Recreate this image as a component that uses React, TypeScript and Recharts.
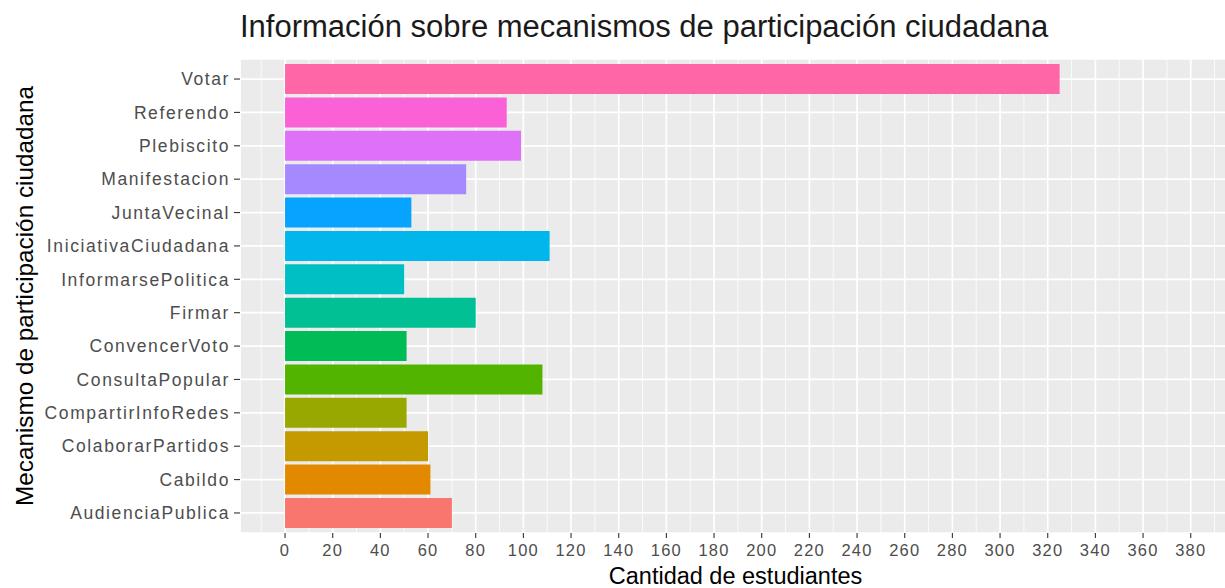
import React from 'react';
import { BarChart, Bar, XAxis, YAxis, CartesianGrid, Cell, Label } from 'recharts';

const categories = [
  'Votar', 'Referendo', 'Plebiscito', 'Manifestacion', 'JuntaVecinal',
  'IniciativaCiudadana', 'InformarsePolitica', 'Firmar', 'ConvencerVoto',
  'ConsultaPopular', 'CompartirInfoRedes', 'ColaborarPartidos', 'Cabildo', 'AudienciaPublica',
];
const counts = [325, 93, 99, 76, 53, 111, 50, 80, 51, 108, 51, 60, 61, 70];
const colors = [
  '#FF66A8', '#FB61D7', '#DF70F8', '#A58AFF', '#06A4FF', '#00B6EB', '#00BFC4',
  '#00C094', '#00BC56', '#53B400', '#99A800', '#C49A00', '#E38900', '#F8766D',
];
const majorTicks = [0, 20, 40, 60, 80, 100, 120, 140, 160, 180, 200, 220, 240, 260, 280, 300, 320, 340, 360, 380];
const minorTicks = [-10, 10, 30, 50, 70, 90, 110, 130, 150, 170, 190, 210, 230, 250, 270, 290, 310, 330, 350, 370, 390];
const xDomain: [number, number] = [-18.9, 396.9];

const title = 'Información sobre mecanismos de participación ciudadana';
const xTitle = 'Cantidad de estudiantes';
const yTitle = 'Mecanismo de participación ciudadana';

const data = categories.map((c, i) => ({ name: c, value: counts[i] }));

const FONT = '"Liberation Sans", Arial, sans-serif';

export default function App() {
  return (
    <div style={{ position: 'absolute', left: 0, top: 0, width: 1225, height: 588, overflow: 'hidden', background: '#fff', fontFamily: FONT }}>
      <div style={{ position: 'absolute', left: 240, top: 11, fontSize: 31, lineHeight: '31px', color: '#1a1a1a', whiteSpace: 'nowrap', fontFamily: FONT }}>
        {title}
      </div>
      <BarChart
        width={1240}
        height={588}
        data={data}
        layout="vertical"
        margin={{ top: 59, right: 9, bottom: 0, left: 0 }}
        barCategoryGap="5%"
        style={{ position: 'absolute', left: 0, top: 0 }}
      >
        <CartesianGrid
          xAxisId="minor"
          horizontal={false}
          vertical={true}
          fill="#EBEBEB"
          stroke="#FFFFFF"
          strokeWidth={0.8}
        />
        <CartesianGrid
          stroke="#FFFFFF"
          strokeWidth={1.7}
        />
        <XAxis
          xAxisId="minor"
          type="number"
          domain={xDomain}
          ticks={minorTicks}
          allowDataOverflow
          hide
        />
        <XAxis
          type="number"
          domain={xDomain}
          ticks={majorTicks}
          allowDataOverflow
          interval={0}
          axisLine={false}
          tickSize={5}
          tickMargin={6}
          height={55}
          tickLine={{ stroke: '#333333', strokeWidth: 1.1 }}
          tick={{ fill: '#4D4D4D', fontSize: 16.5, fontFamily: FONT, letterSpacing: 1.2 }}
        >
          <Label
            content={(props: any) => {
              const vb = props.viewBox || {};
              const cx = vb.x + vb.width / 2;
              const by = vb.y + vb.height - 4;
              return (
                <text x={cx} y={by} textAnchor="middle" fontSize={23.5} fontFamily={FONT} fill="#000">
                  {xTitle}
                </text>
              );
            }}
          />
        </XAxis>
        <YAxis
          type="category"
          dataKey="name"
          width={240}
          interval={0}
          axisLine={false}
          tickSize={6}
          tickMargin={4}
          padding={{ top: 3.34, bottom: 3.34 }}
          tickLine={{ stroke: '#333333', strokeWidth: 1.1 }}
          tick={{ fill: '#4D4D4D', fontSize: 17.5, fontFamily: FONT, letterSpacing: 1.6 }}
        >
          <Label
            content={(props: any) => {
              const vb = props.viewBox || {};
              const cx = vb.x + 33;
              const cy = vb.y + vb.height / 2;
              return (
                <text x={cx} y={cy} transform={`rotate(-90 ${cx} ${cy})`} textAnchor="middle" fontSize={24.3} fontFamily={FONT} fill="#000">
                  {yTitle}
                </text>
              );
            }}
          />
        </YAxis>
        <Bar dataKey="value" isAnimationActive={false}>
          {data.map((d, i) => (
            <Cell key={d.name} fill={colors[i]} />
          ))}
        </Bar>
      </BarChart>
    </div>
  );
}
